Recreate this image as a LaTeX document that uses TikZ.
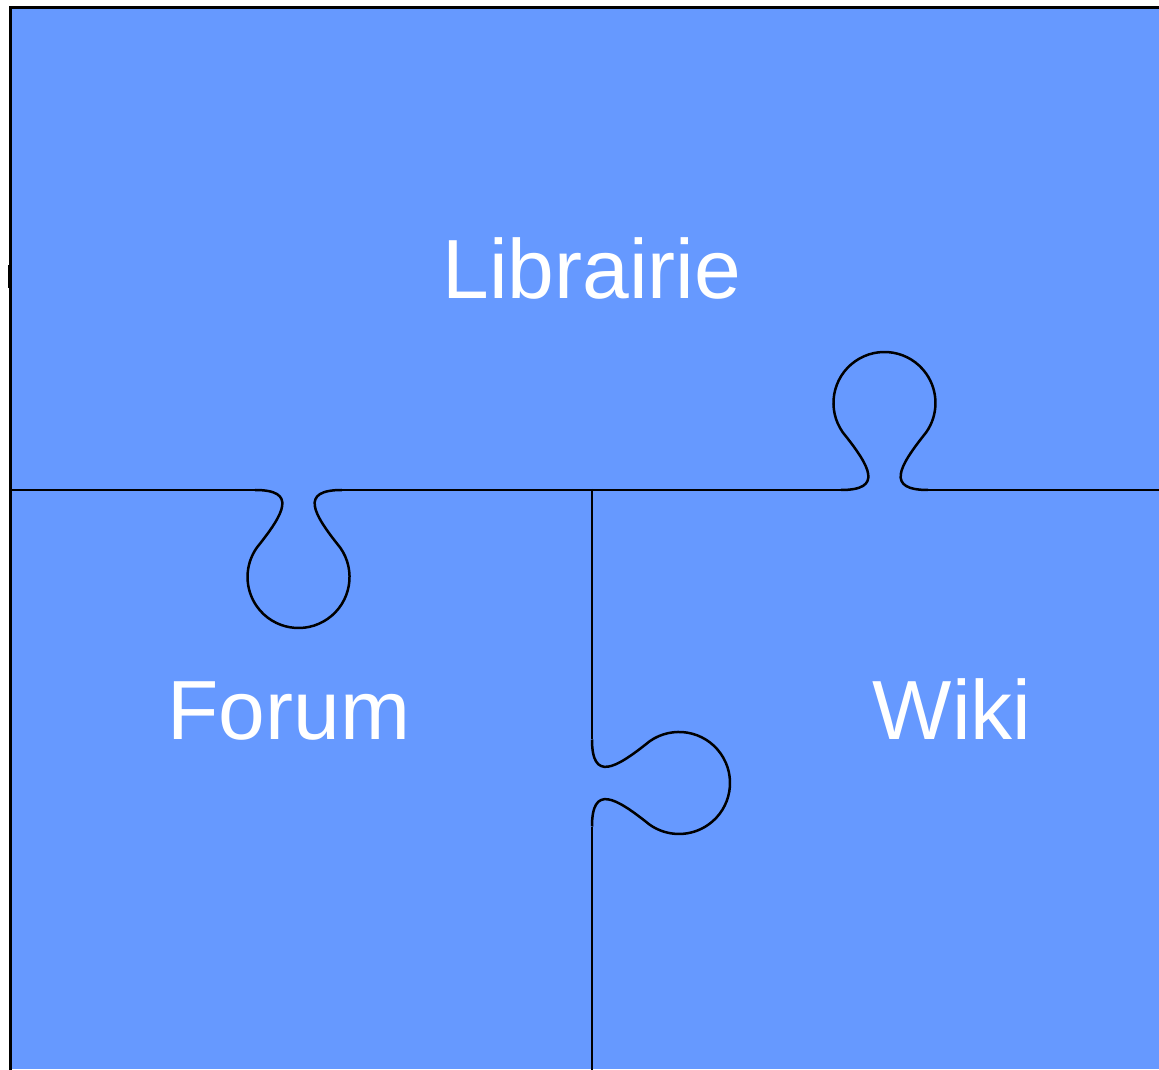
\documentclass[tikz,border=0pt]{standalone}
\usepackage{fontspec}
\setmainfont{Liberation Sans}
\definecolor{piece}{HTML}{6699FF}
\tikzset{
  edge/.style={draw=black, line width=2.5pt},
  frame/.style={draw=black, line width=2.8pt},
  label/.style={text=white, inner sep=0pt, anchor=base,
    font=\fontsize{84}{84}\selectfont},
  % puzzle tab in local coordinates: u along the seam, v towards the tab
  knob/.pic={
    \draw[edge] (-43.5,0) .. controls (-1.5,0) and (-13.5,22.5) .. (-41.7,57.6)
      arc[start angle=215.2, end angle=-35.2, radius=51]
      .. controls (13.5,22.5) and (1.5,0) .. (43.5,0);
  }
}
\begin{document}
\begin{tikzpicture}[x=1pt, y=1pt]
  \useasboundingbox (0,0) rectangle (1159,1069);
  \clip (0,0) rectangle (1159,1069);

  % background of the three pieces
  \fill[piece] (10.5,0) rectangle (1170,1061.5);

  % outer frame (top and left)
  \draw[frame] (10.5,-5) -- (10.5,1061.5) -- (1170,1061.5);
  \fill[black] (8,781) rectangle (11,804);

  % horizontal seam with two tabs
  \draw[edge] (9,579) -- (255,579);
  \pic[rotate=180] at (298.5,579) {knob};
  \draw[edge] (342,579) -- (841,579);
  \pic at (884.5,579) {knob};
  \draw[edge] (928,579) -- (1170,579);

  % vertical seam with one tab
  \draw[edge] (592,580.2) -- (592,329.5);
  \pic[rotate=-90] at (592,286) {knob};
  \draw[edge] (592,242.5) -- (592,-5);

  % piece names
  \node[label] (librairie) at (592,770) {Librairie};
  \node[label] (forum) at (289,329) {Forum};
  \node[label] (wiki) at (952,329) {Wiki};
\end{tikzpicture}
\end{document}
